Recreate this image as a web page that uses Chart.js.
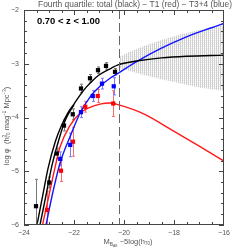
<!DOCTYPE html>
<html>
<head>
<meta charset="utf-8">
<script src="https://cdn.jsdelivr.net/npm/chart.js@4.4.0/dist/chart.umd.min.js"></script>
<style>
html, body { margin: 0; padding: 0; background: #fff; }
</style>
</head>
<body>
<canvas id="myChart" width="249" height="249"></canvas>
<script>
// measured points (total = black, T1 = red, T3+4 = blue)
const totalM   = [-23.52, -22.99, -22.69, -22.40, -22.05, -21.72, -21.36, -21.04, -20.72, -20.36];
const totalPhi = [-5.65, -5.21, -4.67, -4.15, -3.94, -3.46, -3.27, -3.12, -3.04, -3.15];
const totalErr = [0.50, 0.10, 0.10, 0.10, 0.10, 0.08, 0.07, 0.06, 0.06, 0.06];

const t1M   = [-23.08, -22.52, -22.04, -21.55, -21.05, -20.43];
const t1Phi = [-5.72, -4.99, -4.45, -3.80, -3.60, -3.74];
const t1Err = [0.35, 0.20, 0.27, 0.10, 0.12, 0.24];

const t34M   = [-22.55, -22.15, -21.72, -21.25, -20.88, -20.41];
const t34Phi = [-4.77, -4.51, -3.90, -3.60, -3.37, -3.42];
const t34Err = [0.13, 0.22, 0.10, 0.10, 0.10, 0.16];

// fitted curves
const fitTotalM   = [-23.49, -23.25, -23.04, -22.75, -22.5, -22.25, -22.0, -21.75, -21.5, -21.25, -21.0, -20.5, -20.24, -19.5, -18.5, -17.5, -16.0];
const fitTotalPhi = [-6.02, -5.45, -4.95, -4.45, -4.15, -3.92, -3.75, -3.58, -3.43, -3.31, -3.21, -3.08, -3.02, -2.95, -2.89, -2.86, -2.84];
const fitTotal2M   = [-23.37, -23.10, -22.91, -22.63, -22.35, -22.0];
const fitTotal2Phi = [-6.02, -5.40, -4.95, -4.45, -4.05, -3.76];
const fitT1M   = [-23.27, -23.0, -22.77, -22.56, -22.16, -21.76, -21.36, -20.96, -20.56, -20.24, -19.17, -18.1, -17.04, -16.0];
const fitT1Phi = [-6.02, -5.45, -4.95, -4.55, -4.15, -3.92, -3.81, -3.75, -3.73, -3.76, -3.94, -4.23, -4.52, -4.81];
const fitT34M   = [-23.13, -22.85, -22.56, -22.16, -21.76, -21.36, -20.96, -20.56, -20.24, -19.5, -18.5, -17.5, -16.5, -16.0];
const fitT34Phi = [-6.02, -5.40, -4.85, -4.36, -3.92, -3.62, -3.42, -3.27, -3.18, -2.96, -2.71, -2.50, -2.33, -2.25];

// hatched band beyond the completeness limit
const bandM  = [-20.2, -19.8, -19.2, -18.5, -17.8, -17.0, -16.0];
const bandHi = [-2.88, -2.78, -2.67, -2.56, -2.46, -2.37, -2.29];
const bandLo = [-3.08, -3.13, -3.21, -3.29, -3.36, -3.44, -3.50];

const limitM = -20.2;
const xTicks = [-24, -22, -20, -18, -16];
const yTicks = [-6, -5, -4, -3, -2];

const FONT = '"Liberation Sans", Arial, sans-serif';

function toXY(xs, ys) {
    return xs.map((x, i) => ({ x: x, y: ys[i] }));
}

function fmt(v) {
    return (v < 0 ? '\u2212' : '') + Math.abs(v);
}

let canvas = document.querySelector('#myChart');
let ctx = canvas.getContext('2d');

// fine gray hatch
let pc = document.createElement('canvas');
pc.width = 2; pc.height = 2;
let pctx = pc.getContext('2d');
pctx.fillStyle = 'rgba(150,150,150,0.45)';
pctx.fillRect(0, 0, 1, 2);
pctx.fillStyle = 'rgba(150,150,150,0.15)';
pctx.fillRect(1, 0, 1, 1);
let hatch = ctx.createPattern(pc, 'repeat');

// text with sub/superscripts
function drawRich(c, parts, x, y, size, dry) {
    let cx = x;
    for (const p of parts) {
        const s = size * (p.scale || 1);
        c.font = s + 'px ' + FONT;
        const w = c.measureText(p.t).width;
        if (!dry) c.fillText(p.t, cx, y + (p.dy || 0) * size);
        if (!p.hold) cx += w;
    }
    return cx - x;
}

const errorSeries = [
    { m: totalM, phi: totalPhi, err: totalErr, color: '#777' },
    { m: t1M, phi: t1Phi, err: t1Err, color: '#ff6a6a' },
    { m: t34M, phi: t34Phi, err: t34Err, color: '#7a7aff' }
];

const decor = {
    id: 'decor',
    beforeDatasetsDraw(chart) {
        const c = chart.ctx, a = chart.chartArea;
        const xs = chart.scales.x, ys = chart.scales.y;
        c.save();
        c.beginPath();
        c.rect(a.left, a.top, a.right - a.left, a.bottom - a.top);
        c.clip();
        c.lineWidth = 1;
        errorSeries.forEach(s => {
            c.strokeStyle = s.color;
            s.m.forEach((m, i) => {
                const px = Math.round(xs.getPixelForValue(m)) + 0.5;
                const t = ys.getPixelForValue(s.phi[i] + s.err[i]);
                const b = ys.getPixelForValue(s.phi[i] - s.err[i]);
                c.beginPath();
                c.moveTo(px, t); c.lineTo(px, b);
                c.moveTo(px - 1.5, t); c.lineTo(px + 1.5, t);
                c.moveTo(px - 1.5, b); c.lineTo(px + 1.5, b);
                c.stroke();
            });
        });
        c.restore();
    },
    afterDatasetsDraw(chart) {
        const c = chart.ctx, a = chart.chartArea;
        const xs = chart.scales.x, ys = chart.scales.y;
        c.save();
        // completeness limit
        const lx = Math.round(xs.getPixelForValue(limitM)) + 0.5;
        c.strokeStyle = '#666';
        c.lineWidth = 1;
        c.setLineDash([9, 4]);
        c.beginPath();
        c.moveTo(lx, a.top); c.lineTo(lx, a.bottom);
        c.stroke();
        c.setLineDash([]);
        // frame
        c.strokeStyle = '#444';
        c.strokeRect(a.left + 0.5, a.top + 0.5, a.right - a.left - 1, a.bottom - a.top - 1);
        // inward ticks
        c.beginPath();
        for (let v = -24; v <= -16.001; v += 0.5) {
            const px = Math.round(xs.getPixelForValue(v)) + 0.5;
            const len = Math.abs(v % 2) < 0.01 ? 5 : 3;
            c.moveTo(px, a.bottom); c.lineTo(px, a.bottom - len);
            c.moveTo(px, a.top); c.lineTo(px, a.top + len);
        }
        for (let k = 0; k <= 20; k++) {
            const v = -6 + k * 0.2;
            const py = Math.round(ys.getPixelForValue(v)) + 0.5;
            const len = k % 5 === 0 ? 5 : 3;
            c.moveTo(a.left, py); c.lineTo(a.left + len, py);
            c.moveTo(a.right, py); c.lineTo(a.right - len, py);
        }
        c.stroke();

        // texts
        c.fillStyle = '#555';
        c.textBaseline = 'middle';
        c.font = '10px ' + FONT;
        const title = 'Fourth quartile: total (black) \u2212 T1 (red) \u2212 T3+4 (blue)';
        const ts = 10 * 194 / c.measureText(title).width;
        c.font = ts + 'px ' + FONT;
        c.textAlign = 'center';
        c.fillText(title, 135, 5);

        c.fillStyle = '#000';
        c.font = 'bold 10px ' + FONT;
        const zt = '0.70 < z < 1.00';
        const zs = 10 * 63 / c.measureText(zt).width;
        c.font = 'bold ' + zs + 'px ' + FONT;
        c.textAlign = 'left';
        c.fillText(zt, 37, 21);

        c.fillStyle = '#555';
        const xl = [
            { t: 'M' },
            { t: 'B', dy: 0.3, scale: 0.65 },
            { t: 'AB', dy: 0.5, scale: 0.45 },
            { t: ' \u22125log(h' },
            { t: '70', dy: 0.3, scale: 0.6 },
            { t: ')' }
        ];
        const xw = drawRich(c, xl, 0, 0, 7.5, true);
        drawRich(c, xl, 128 - xw / 2, 242, 7.5);

        const yl = [
            { t: 'log \u03c6  (h' },
            { t: '3', dy: -0.35, scale: 0.6, hold: true },
            { t: '70', dy: 0.3, scale: 0.6 },
            { t: ' mag' },
            { t: '\u22121', dy: -0.35, scale: 0.6 },
            { t: ' Mpc' },
            { t: '\u22123', dy: -0.35, scale: 0.6 },
            { t: ')' }
        ];
        const yw = drawRich(c, yl, 0, 0, 7.5, true);
        c.translate(7, 126);
        c.rotate(-Math.PI / 2);
        drawRich(c, yl, -yw / 2, 0, 7.5);
        c.restore();
    }
};

function curve(xs, ys, color) {
    return {
        data: toXY(xs, ys),
        borderColor: color,
        borderWidth: 1.4,
        pointRadius: 0,
        fill: false,
        cubicInterpolationMode: 'monotone'
    };
}

function marks(xs, ys, color) {
    return {
        data: toXY(xs, ys),
        showLine: false,
        pointStyle: 'rect',
        pointRadius: 3,
        pointBackgroundColor: color,
        pointBorderColor: color,
        pointBorderWidth: 0
    };
}

let myChart = new Chart(ctx, {
    type: 'line',
    data: {
        datasets: [
            marks(totalM, totalPhi, '#000'),
            marks(t34M, t34Phi, '#0000ff'),
            marks(t1M, t1Phi, '#ff0000'),
            curve(fitTotalM, fitTotalPhi, '#000'),
            curve(fitTotal2M, fitTotal2Phi, '#000'),
            curve(fitT34M, fitT34Phi, '#1414ff'),
            curve(fitT1M, fitT1Phi, '#ff1a1a'),
            {
                data: toXY(bandM, bandLo),
                borderWidth: 0,
                pointRadius: 0,
                fill: false,
                borderColor: 'rgba(0,0,0,0)'
            },
            {
                data: toXY(bandM, bandHi),
                borderWidth: 0,
                pointRadius: 0,
                fill: '-1',
                borderColor: 'rgba(0,0,0,0)',
                backgroundColor: hatch
            }
        ]
    },
    options: {
        responsive: false,
        animation: false,
        events: [],
        layout: { padding: { top: 10, right: 25, left: 0, bottom: 0 } },
        plugins: {
            legend: { display: false },
            tooltip: { enabled: false }
        },
        scales: {
            x: {
                type: 'linear',
                min: -24,
                max: -16,
                afterFit(scale) { scale.height = 24; },
                afterBuildTicks(scale) { scale.ticks = xTicks.map(v => ({ value: v })); },
                grid: { display: false, drawTicks: false, tickLength: 0 },
                border: { display: false },
                ticks: {
                    autoSkip: false,
                    maxRotation: 0,
                    padding: 4,
                    color: '#555',
                    font: { family: FONT, size: 7 },
                    callback: fmt
                }
            },
            y: {
                type: 'linear',
                min: -6,
                max: -2,
                afterFit(scale) { scale.width = 24; },
                afterBuildTicks(scale) { scale.ticks = yTicks.map(v => ({ value: v })); },
                grid: { display: false, drawTicks: false, tickLength: 0 },
                border: { display: false },
                ticks: {
                    padding: 5,
                    color: '#555',
                    font: { family: FONT, size: 7 },
                    callback: fmt
                }
            }
        }
    },
    plugins: [decor]
});
</script>
</body>
</html>
